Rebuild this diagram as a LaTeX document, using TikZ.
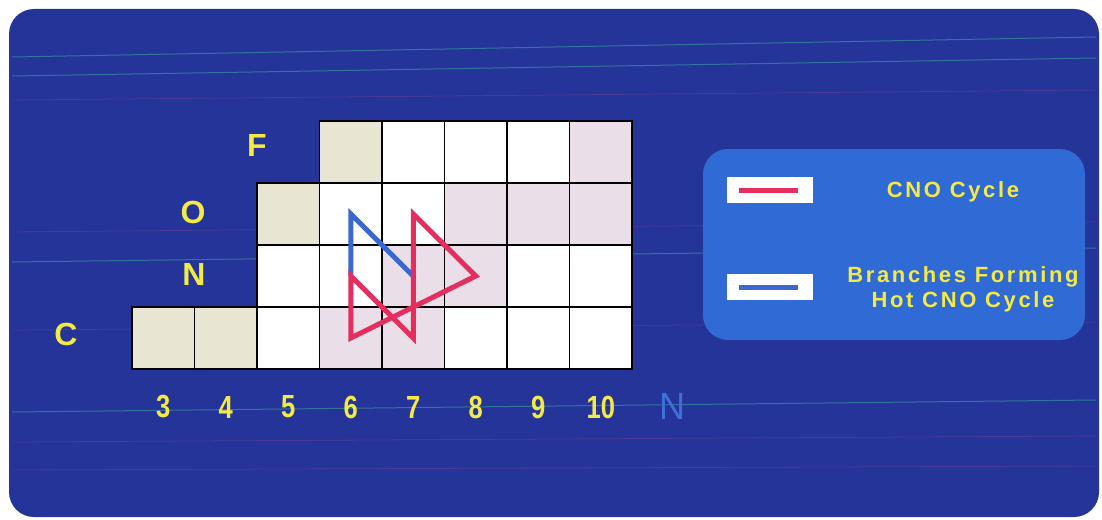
\documentclass[tikz,border=0pt]{standalone}
\usepackage{fontspec}
\setmainfont{Liberation Sans}
\newfontfamily\legfont{Liberation Sans}[LetterSpace=12]

\definecolor{panelblue}{RGB}{36,52,152}
\definecolor{legblue}{RGB}{48,106,212}
\definecolor{cnoyellow}{RGB}{244,234,70}
\definecolor{cnored}{RGB}{228,46,94}
\definecolor{hotblue}{RGB}{58,104,208}
\definecolor{axisblue}{RGB}{62,112,215}
\definecolor{cellbeige}{RGB}{232,230,210}
\definecolor{cellpink}{RGB}{234,222,232}
\definecolor{scanteal}{RGB}{60,160,160}
\definecolor{scanpurple}{RGB}{120,60,150}

\tikzset{
  cell/.style={draw=black, line width=1.6pt, minimum width=62.5pt, minimum height=62pt, inner sep=0pt, outer sep=0pt},
  lab/.style={text=cnoyellow, inner sep=0pt, font=\fontsize{32}{32}\selectfont\bfseries},
  num/.style={lab, xscale=0.8},
  keybox/.style={fill=white, minimum width=86pt, minimum height=26pt, inner sep=0pt},
  legtext/.style={text=cnoyellow, inner sep=0pt, align=center, font=\legfont\bfseries\fontsize{22}{25}\selectfont},
  cnoline/.style={cnored, line width=5pt},
  hotline/.style={hotblue, line width=5pt}
}

\begin{document}
\begin{tikzpicture}[x=1pt,y=-1pt]
   \useasboundingbox (0,0) rectangle (1102,519);
   \fill [panelblue, rounded corners=25pt] (9,9) rectangle (1099,517);

% scan lines
   \foreach \ya/\yb in {57/37, 76/58, 262/248, 412/400}
      \draw [scanteal, line width=1pt, opacity=0.6] (12,\ya) -- (1096,\yb);
   \foreach \ya/\yb in {100/90, 232/222, 330/322, 442/436, 470/466}
      \draw [scanpurple, line width=0.8pt, opacity=0.5] (12,\ya) -- (1096,\yb);

% chart of nuclides, rows C, N, O, F
\def\xc#1{163.25+62.5*(#1-3)}
   \foreach \n/\c in {3/cellbeige,4/cellbeige,5/white,6/cellpink,7/cellpink,8/white,9/white,10/white}
      \node [cell, fill=\c] (C\n) at ({\xc{\n}},338) {};
   \foreach \n/\c in {5/white,6/white,7/cellpink,8/cellpink,9/white,10/white}
      \node [cell, fill=\c] (N\n) at ({\xc{\n}},276) {};
   \foreach \n/\c in {5/cellbeige,6/white,7/white,8/cellpink,9/cellpink,10/cellpink}
      \node [cell, fill=\c] (O\n) at ({\xc{\n}},214) {};
   \foreach \n/\c in {6/cellbeige,7/white,8/white,9/white,10/cellpink}
      \node [cell, fill=\c] (F\n) at ({\xc{\n}},152) {};

   \node [lab] (labF) at (257,145) {F};
   \node [lab] (labO) at (193,212) {O};
   \node [lab] (labN) at (194,274) {N};
   \node [lab] (labC) at (66,334) {C};

   \foreach \n in {3,...,10}
      \node [num] (num\n) at ({\xc{\n}},407) {\n};
   \node [text=axisblue, inner sep=0pt, font=\fontsize{38}{38}\selectfont, xscale=0.95] (axisN) at (673,406) {N};

% hot branch and CNO cycle
   \draw [hotline] (N6.center) -- (O6.center) -- (N7.center);
   \draw [cnoline] (C6.center) -- (N6.center) -- (C7.center) -- (O7.center) -- (N8.center) -- cycle;

% legend
   \fill [legblue, rounded corners=25pt] (703,149) rectangle (1085,340);
   \node [keybox] (cnoKey) at (770,190) {};
   \draw [cnoline] ([xshift=12pt]cnoKey.west) -- ([xshift=-15pt]cnoKey.east);
   \node [keybox] (hotKey) at (770,287) {};
   \draw [hotline] ([xshift=12pt]hotKey.west) -- ([xshift=-15pt]hotKey.east);
   \node [legtext] (cnoText) at (953,192) {CNO Cycle};
   \node [legtext] (hotText) at (963,289) {Branches Forming\\Hot CNO Cycle};

\end{tikzpicture}
\end{document}
